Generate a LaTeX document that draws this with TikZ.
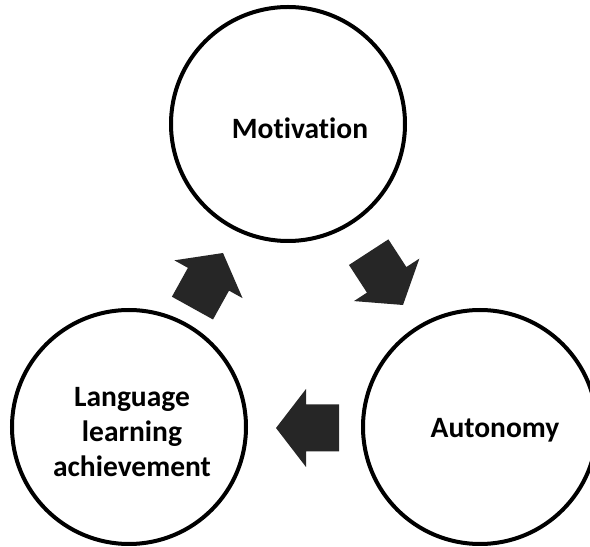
\documentclass[tikz,border=0pt]{standalone}
\usepackage{fontspec}
\setmainfont{Carlito}[Ligatures=NoCommon]
\usetikzlibrary{positioning,calc}

\tikzset{
  ring/.style={circle, draw, line width=4pt, minimum size=234pt, inner sep=0pt},
  lbl/.style={font=\fontsize{29.5}{35}\selectfont\bfseries, align=center},
  blockarrow/.style={fill=black!85, draw=none}
}

\begin{document}
\begin{tikzpicture}[x=1pt,y=1pt]
      \useasboundingbox (0,0) rectangle (590,547);
      % the three circles
      \node[ring] (mot) at (288,423) {};
      \node[ring] (lla) at (129,120) {};
      \node[ring] (aut) at (480,120) {};
      \node[lbl] (motlbl) at (300,419) {Motivation};
      \node[lbl] (llalbl) at (132,115) {Language\\learning\\achievement};
      \node[lbl] (autlbl) at (495,117) {Autonomy};
      % block arrows, tip and direction
      \foreach \tx/\ty/\ang in {403/242/-57, 276/119/180, 223/294/61} {
        \fill[blockarrow, shift={(\tx,\ty)}, rotate=\ang]
          (0,0) -- (-30,39) -- (-30,23.5) -- (-63,23.5) -- (-63,-23.5)
          -- (-30,-23.5) -- (-30,-39) -- cycle;
      }
    \end{tikzpicture}
\end{document}
